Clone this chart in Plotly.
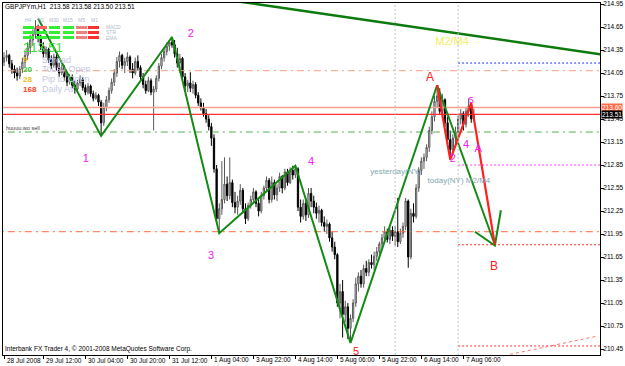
import plotly.graph_objects as go

# ---------------- data ----------------
bars = list(range(180))
opens = [214.19,214.25,214.28,214.17,214.10,214.05,214.01,214.10,214.19,214.28,214.38,214.48,214.55,214.64,214.50,214.40,214.30,214.36,214.22,214.15,
         214.26,214.12,214.05,214.12,214.00,213.93,214.00,213.89,213.84,213.92,213.97,213.86,213.80,213.88,213.78,213.72,213.76,213.67,213.40,213.60,
         213.70,213.82,213.93,214.05,214.20,214.28,214.15,214.20,214.26,214.10,214.05,214.20,214.12,214.00,213.90,213.82,213.95,213.80,213.84,213.98,
         214.14,214.25,214.33,214.40,214.45,214.42,214.30,214.18,214.24,214.00,213.88,213.92,213.85,213.90,213.76,213.66,213.60,213.52,213.45,213.35,
         213.20,212.80,212.15,212.28,212.40,212.60,212.45,212.62,212.36,212.30,212.38,212.52,212.28,212.15,212.32,212.40,212.50,212.35,212.25,212.45,
         212.55,212.65,212.40,212.62,212.46,212.55,212.70,212.55,212.76,212.62,212.78,212.72,212.80,212.30,212.18,212.35,212.20,212.48,212.38,212.30,
         212.22,212.26,212.10,212.05,212.08,211.90,211.78,211.68,211.05,211.20,210.90,211.00,210.72,210.85,211.05,211.30,211.40,211.30,211.50,211.45,
         211.58,211.55,211.66,211.72,211.82,211.90,211.98,211.88,212.00,211.92,211.98,211.85,211.96,212.05,212.38,211.65,212.22,212.18,212.55,212.78,
         212.90,212.95,213.08,213.30,213.48,213.68,213.75,213.55,213.70,213.40,213.18,213.05,213.20,213.28,213.45,213.52,213.38,213.55,213.62,213.45]
highs = [214.32,214.35,214.30,214.22,214.15,214.12,214.14,214.25,214.33,214.45,214.55,214.62,214.74,214.68,214.55,214.45,214.40,214.38,214.28,214.30,
         214.30,214.18,214.16,214.15,214.05,214.04,214.03,213.95,213.96,214.02,214.00,213.90,213.92,213.90,213.82,213.80,213.78,213.70,213.66,213.75,
         213.86,213.98,214.10,214.26,214.33,214.30,214.25,214.32,214.28,214.18,214.25,214.28,214.15,214.05,213.95,214.00,213.98,213.88,214.02,214.18,
         214.30,214.38,214.45,214.48,214.52,214.48,214.38,214.30,214.26,214.05,213.96,214.06,213.95,213.93,213.80,213.72,213.66,213.58,213.50,213.40,
         213.25,212.85,212.35,212.90,212.95,212.70,212.95,212.66,212.50,212.45,212.60,212.55,212.35,212.36,212.45,212.55,212.52,212.42,212.50,212.58,
         212.70,212.68,212.70,212.66,212.60,212.75,212.72,212.80,212.80,212.82,212.84,212.85,212.82,212.40,212.40,212.42,212.55,212.55,212.45,212.36,
         212.32,212.28,212.18,212.14,212.10,211.98,211.85,211.70,211.30,211.35,211.08,211.05,210.90,211.10,211.38,211.45,211.48,211.55,211.60,211.62,
         211.68,211.72,211.78,211.85,211.95,212.05,212.02,212.04,212.05,212.05,212.42,212.02,212.10,212.42,212.40,212.28,212.35,212.60,212.82,212.95,
         213.00,213.12,213.35,213.55,213.75,213.89,213.85,213.78,213.72,213.48,213.30,213.25,213.35,213.50,213.58,213.55,213.60,213.72,213.66,213.58]
lows = [214.14,214.20,214.12,214.04,213.98,213.95,213.97,214.05,214.12,214.22,214.30,214.40,214.50,214.45,214.35,214.25,214.25,214.18,214.10,214.12,
        214.08,214.00,214.02,213.95,213.88,213.90,213.85,213.78,213.80,213.88,213.82,213.76,213.77,213.74,213.68,213.70,213.62,213.23,213.36,213.55,
        213.66,213.78,213.88,214.00,214.12,214.10,214.05,214.14,214.05,213.98,214.02,214.08,213.96,213.85,213.78,213.80,213.76,213.30,213.80,213.94,
        214.10,214.20,214.28,214.34,214.38,214.25,214.12,214.05,213.95,213.82,213.80,213.80,213.78,213.72,213.62,213.56,213.48,213.40,213.30,213.10,
        212.75,212.10,211.96,212.20,212.35,212.38,212.40,212.30,212.22,212.20,212.33,212.22,212.08,212.12,212.28,212.35,212.30,212.18,212.22,212.40,
        212.50,212.35,212.36,212.40,212.38,212.50,212.48,212.52,212.58,212.60,212.66,212.68,212.25,212.10,212.14,212.12,212.16,212.30,212.22,212.15,
        212.10,212.05,211.98,211.95,211.85,211.72,211.62,211.00,210.85,210.60,210.80,210.58,210.53,210.80,211.00,211.20,211.25,211.25,211.40,211.40,
        211.50,211.48,211.60,211.68,211.76,211.85,211.84,211.82,211.86,211.80,211.78,211.82,211.90,212.00,211.51,211.62,212.10,212.15,212.50,212.72,
        212.80,212.90,213.02,213.25,213.42,213.60,213.50,213.50,213.35,213.12,212.92,213.00,213.12,213.22,213.38,213.30,213.34,213.48,213.40,213.42]
closes = [214.25,214.28,214.17,214.10,214.05,214.01,214.10,214.19,214.28,214.38,214.48,214.55,214.64,214.50,214.40,214.30,214.36,214.22,214.15,214.26,
          214.12,214.05,214.12,214.00,213.93,214.00,213.89,213.84,213.92,213.97,213.86,213.80,213.88,213.78,213.72,213.76,213.67,213.40,213.60,213.70,
          213.82,213.93,214.05,214.20,214.28,214.15,214.20,214.26,214.10,214.05,214.20,214.12,214.00,213.90,213.82,213.95,213.80,213.84,213.98,214.14,
          214.25,214.33,214.40,214.45,214.42,214.30,214.18,214.24,214.00,213.88,213.92,213.85,213.90,213.76,213.66,213.60,213.52,213.45,213.35,213.20,
          212.80,212.15,212.28,212.40,212.60,212.45,212.62,212.36,212.30,212.38,212.52,212.28,212.15,212.32,212.40,212.50,212.35,212.25,212.45,212.55,
          212.65,212.40,212.62,212.46,212.55,212.70,212.55,212.76,212.62,212.78,212.72,212.80,212.30,212.18,212.35,212.20,212.48,212.38,212.30,212.22,
          212.26,212.10,212.05,212.08,211.90,211.78,211.68,211.05,211.20,210.90,211.00,210.72,210.85,211.05,211.30,211.40,211.30,211.50,211.45,211.58,
          211.55,211.66,211.72,211.82,211.90,211.98,211.88,212.00,211.92,211.98,211.85,211.96,212.05,212.38,211.65,212.22,212.18,212.55,212.78,212.90,
          212.95,213.08,213.30,213.48,213.68,213.75,213.55,213.70,213.40,213.18,213.05,213.20,213.28,213.45,213.52,213.38,213.55,213.62,213.45,213.51]

zz_green_x = [13, 37, 64, 82, 111, 132, 165, 187]
zz_green_y = [214.76, 213.23, 214.52, 211.96, 212.84, 210.53, 213.89, 211.81]
zz_arrow_x = [179.4, 187, 189.3]
zz_arrow_y = [211.98, 211.80, 212.26]
zz_red_x = [165, 170, 178, 187]
zz_red_y = [213.89, 212.92, 213.66, 211.81]
trend_x = [88, 228]
trend_y = [214.99, 214.29]

price_ticks = [210.45, 210.75, 211.05, 211.35, 211.65, 211.95, 212.25, 212.55,
               212.85, 213.15, 213.45, 213.75, 214.05, 214.35, 214.65, 214.95]
time_tick_bars = [0, 15, 31, 47, 63, 79, 95, 111, 127, 143, 159, 175]
time_tick_labels = ['28 Jul 2008', '29 Jul 12:00', '30 Jul 04:00', '30 Jul 20:00', '31 Jul 12:00',
                    '1 Aug 04:00', '3 Aug 22:00', '4 Aug 14:00', '5 Aug 06:00', '5 Aug 22:00',
                    '6 Aug 14:00', '7 Aug 06:00']

ask_price = 213.60
bid_price = 213.51
green_level = 213.28
orange_levels = [214.08, 211.98]
right_levels = [214.18, 212.85, 211.81, 210.49]   # blue, magenta, red, red (from bar 173)
right_level_start = 173
slope_x = [192.8, 226.3]
slope_y = [210.38, 210.62]
vlines = [149, 173]

wave_labels = ['1', '2', '3', '4', '5', 'A', 'B', '2', '4', 'A', '5', 'M2/M4', 'yesterday(NY)', 'today(NY) M2/M4']
wave_x = [31.2, 71.2, 78.9, 117, 134.1, 162.3, 186.7, 171, 176, 180.6, 178, 170.7, 149.3, 173.3]
wave_y = [212.92, 214.56, 211.66, 212.89, 210.41, 213.98, 211.52, 212.92, 213.11, 213.05, 213.69, 214.45, 212.76, 212.64]

# ---------------- figure ----------------
W, H = 625, 366
L, T, R, B = 3, 3, 600, 355
FONT = 'Liberation Sans'


def px(x):
    return (x - L) / (R - L)


def py(y):
    return 1 - (y - T) / (B - T)


fig = go.Figure()

# horizontal levels
for lvl, col in zip(orange_levels, ['#f4a080', '#ff6a3a']):
    fig.add_trace(go.Scatter(x=[-5, 240], y=[lvl, lvl], mode='lines',
                             line=dict(color=col, width=1, dash='7px,4px,2px,4px'), hoverinfo='skip'))
fig.add_trace(go.Scatter(x=[-5, 240], y=[green_level, green_level], mode='lines',
                         line=dict(color='#55b055', width=1, dash='7px,4px,2px,4px'), hoverinfo='skip'))
fig.add_trace(go.Scatter(x=[-5, 240], y=[ask_price, ask_price], mode='lines',
                         line=dict(color='#f7a090', width=1.3), hoverinfo='skip'))
fig.add_trace(go.Scatter(x=[-5, 240], y=[bid_price, bid_price], mode='lines',
                         line=dict(color='#ff3030', width=1.3), hoverinfo='skip'))
for lvl, col in zip(right_levels, ['#2030ff', '#ff40ff', '#ff3030', '#ff3030']):
    fig.add_trace(go.Scatter(x=[right_level_start, 240], y=[lvl, lvl], mode='lines',
                             line=dict(color=col, width=1, dash='2px,2px'), hoverinfo='skip'))
fig.add_trace(go.Scatter(x=slope_x, y=slope_y, mode='lines',
                         line=dict(color='#ff7070', width=1, dash='3px,3px'), hoverinfo='skip'))

# candles
fig.add_trace(go.Candlestick(x=bars, open=opens, high=highs, low=lows, close=closes,
                             increasing=dict(line=dict(color='#5a5a5a', width=1), fillcolor='#e4e4e4'),
                             decreasing=dict(line=dict(color='#000000', width=1), fillcolor='#000000'),
                             whiskerwidth=0, hoverinfo='skip'))

# zigzags
fig.add_trace(go.Scatter(x=trend_x, y=trend_y, mode='lines', line=dict(color='#0c7a0c', width=2.5), hoverinfo='skip'))
fig.add_trace(go.Scatter(x=zz_green_x, y=zz_green_y, mode='lines', line=dict(color='#138a13', width=2), hoverinfo='skip'))
fig.add_trace(go.Scatter(x=zz_arrow_x, y=zz_arrow_y, mode='lines', line=dict(color='#138a13', width=2), hoverinfo='skip'))
fig.add_trace(go.Scatter(x=zz_red_x, y=zz_red_y, mode='lines', line=dict(color='#ff2020', width=2.2), hoverinfo='skip'))

# labels
lab_colors = ['#f020f0'] * 4 + ['#ff2020', '#ff2020', '#ff2020'] + ['#f020f0'] * 4 + ['#f0f060', '#80a8b0', '#80a8b0']
lab_sizes = [11, 11, 11, 11, 11, 12, 12, 11, 11, 11, 9, 11, 8, 8]
fig.add_trace(go.Scatter(x=wave_x, y=wave_y, mode='text', text=wave_labels,
                         textfont=dict(family=FONT, size=lab_sizes, color=lab_colors),
                         textposition='middle center', cliponaxis=True, hoverinfo='skip'))

shapes = []
for v in vlines:
    shapes.append(dict(type='line', xref='x', yref='paper', x0=v, x1=v, y0=0, y1=1,
                       line=dict(color='#c0c0c0', width=1, dash='2px,2px')))

# indicator panel bars (MACD / STR / EMA for timeframes)
col_x = [(23, 34), (36, 47), (49, 60), (63, 74), (76, 87), (88, 99)]
row_y = [(26, 29), (31, 34), (36, 39)]
panel_colors = [['#33ee33', '#ff6060', '#33ee33', '#33ee33', '#f08080', '#ff3030'],
                ['#33ee33', '#33ee33', '#33ee33', '#33ee33', '#f08080', '#ff3030'],
                ['#33ee33', '#33ee33', '#33ee33', '#33ee33', '#f08080', '#ff3030']]
for ri, (y0, y1) in enumerate(row_y):
    for ci, (x0, x1) in enumerate(col_x):
        shapes.append(dict(type='rect', xref='paper', yref='paper', x0=px(x0), x1=px(x1),
                           y0=py(y1), y1=py(y0), line=dict(width=0), fillcolor=panel_colors[ri][ci]))

annotations = []


def ann(text, x, y, size, color, xanchor='left', bold=False, **kw):
    annotations.append(dict(text=('<b>%s</b>' % text) if bold else text, xref='paper', yref='paper',
                            x=px(x), y=py(y), xanchor=xanchor, yanchor='middle', showarrow=False,
                            font=dict(family=FONT, size=size, color=color), **kw))


ann('GBPJPYm,H1  213.58 213.58 213.50 213.51', 3, 6, 6.5, '#000000')
for t, x in zip(['H4', 'H1', 'M30', 'M15', 'M5', 'M1'], [28, 41, 54, 68, 81, 94]):
    ann(t, x, 20, 5, '#b0b8cc', xanchor='center')
for t, y in zip(['MACD', 'STR', 'EMA'], [27.5, 32.5, 37.5]):
    ann(t, 104, y, 5, '#b0b8cc')
ann('213.51', 22, 48, 13, '#33dd33', borderpad=0)
ann('9', 22, 60, 8, '#e8c020', bold=True, borderpad=0)
ann('20', 22, 69, 8, '#33cc33', bold=True, borderpad=0)
ann('28', 22, 79, 8, '#e8c020', bold=True, borderpad=0)
ann('168', 22, 89, 8, '#ff4020', bold=True, borderpad=0)
for t, y in zip(['Spread', 'Today Open', 'Pip to Open', 'Daily Av'], [60, 69, 79, 89]):
    ann(t, 41, y, 9, '#c4c8e0', borderpad=0)
ann('huuuu.wo sell', 4, 128, 5.5, '#404040')
ann('Interbank FX Trader 4, © 2001-2008 MetaQuotes Software Corp.', 3, 349, 6.5, '#000000')

# price tags on the right
for val, bg in [(ask_price, '#ff6a48'), (bid_price, '#000000')]:
    annotations.append(dict(text='%.2f' % val, xref='paper', yref='y', x=1, y=val, xanchor='left',
                            yanchor='middle', showarrow=False, bgcolor=bg, borderpad=0, xshift=1,
                            font=dict(family=FONT, size=6.5, color='#ffffff')))

# time labels (left aligned after tick, MT4 style)
for b, t in zip(time_tick_bars, time_tick_labels):
    annotations.append(dict(text=t, xref='x', yref='paper', x=b, y=py(360), xanchor='left',
                            yanchor='middle', showarrow=False, xshift=1,
                            font=dict(family=FONT, size=6.5, color='#000000')))

fig.update_layout(
    width=W, height=H,
    margin=dict(l=L, r=W - R, t=T, b=H - B),
    paper_bgcolor='#ffffff', plot_bgcolor='#ffffff',
    showlegend=False,
    shapes=shapes, annotations=annotations,
    xaxis=dict(range=[-0.38, 227.05], rangeslider=dict(visible=False), showgrid=False, zeroline=False,
               tickmode='array', tickvals=time_tick_bars, ticktext=[''] * len(time_tick_bars),
               ticks='outside', ticklen=3, tickcolor='#000000', showline=True, linecolor='#000000',
               linewidth=1, mirror=True, automargin=False, fixedrange=True),
    yaxis=dict(range=[210.372, 214.963], side='right', showgrid=False, zeroline=False,
               tickmode='array', tickvals=price_ticks, ticktext=['%.2f' % v for v in price_ticks],
               ticks='outside', ticklen=3, tickcolor='#000000', showline=True, linecolor='#000000',
               linewidth=1, mirror=True, automargin=False, fixedrange=True, ticklabelstandoff=-2,
               tickfont=dict(family=FONT, size=6.5, color='#000000')),
)

fig.write_html('out.html')
